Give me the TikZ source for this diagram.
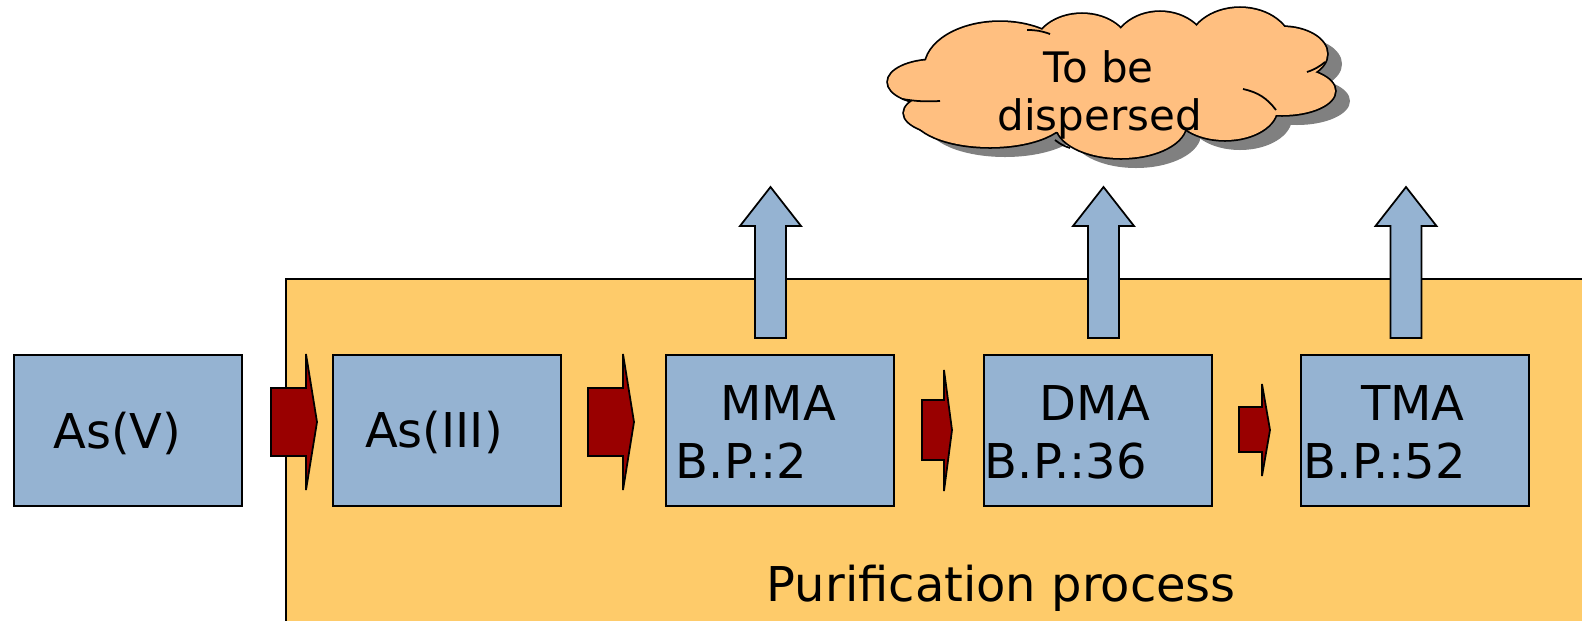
\documentclass[tikz,border=0pt]{standalone}
\usepackage{fontspec}
\setmainfont{DejaVu Sans}

\definecolor{procbg}{RGB}{254,203,106}
\definecolor{boxblue}{RGB}{149,179,210}
\definecolor{arrowred}{RGB}{153,0,0}
\definecolor{cloudorange}{RGB}{255,191,128}

% lobes of the cloud: centre x / centre y / x radius / y radius
\def\cloudlobes{935/82/47/22, 962/113/58/23, 1000/68/75/46, 1082/50/48/36,
  1160/52/48/40, 1240/48/52/40, 1282/54/45/27, 1282/91/53/24, 1225/108/52/32,
  1121/124/65/34, 990/114/78/33, 1110/85/150/50}

\begin{document}
\begin{tikzpicture}[
    x=0.02cm, y=-0.02cm,
    line width=1pt,
    every node/.style={font=\fontsize{27.3}{32}\selectfont, inner sep=0pt},
    species/.style={draw, fill=boxblue, minimum width=4.56cm, minimum height=3.02cm, anchor=north west},
    redarrow/.style={draw, fill=arrowred, line join=miter},
    uparrow/.style={draw, fill=boxblue},
    process/.style={draw, fill=procbg},
    cloudtext/.style={font=\fontsize{23.9}{27.3}\selectfont, anchor=base}
  ]
  \useasboundingbox (0,0) rectangle (1582,620);

    %------------------ Purification area ------------------%
    \draw[process] (286,279) rectangle (1600,640);
    \node[anchor=base west] (purif) at (766,601) {Purification process};

    % Up arrows (to the cloud)
    \foreach \c in {770.5,1103.5,1406}
      \draw[uparrow] ({\c-15.5},338) -- ({\c-15.5},226) -- ({\c-30.5},226) -- (\c,187)
        -- ({\c+30.5},226) -- ({\c+15.5},226) -- ({\c+15.5},338) -- cycle;

    %------------------ Species boxes ------------------%
    \node[species] (asv)  at (13,354)   {};
    \node[species] (asiii) at (332,354) {};
    \node[species] (mma)  at (665,354)  {};
    \node[species] (dma)  at (983,354)  {};
    \node[species] (tma)  at (1300,354) {};

    % Labels
    \node[anchor=base] (tasv) at (117.5,448) {As(V)};
    \node[anchor=base] (tasiii) at (434,447) {As(III)};
    \node[anchor=base] (tmma) at (778,420) {MMA};
    \node[anchor=base west] (bpmma) at (675,478) {B.P.:2};
    \node[anchor=base] (tdma) at (1095,420) {DMA};
    \node[anchor=base west] (bpdma) at (984,478) {B.P.:36};
    \node[anchor=base] (ttma) at (1413,420) {TMA};
    \node[anchor=base west] (bptma) at (1303,478) {B.P.:52};

    % Red block arrows
    \foreach \a/\b/\t/\ht/\hb/\bt/\bb/\m in {271/306/317/354/490/388/456/422,
        588/623/634/354/490/388/456/422, 922/944/952/370/491/400/460/430,
        1239/1262/1270/384/476/407/452/430}
      \draw[redarrow] (\a,\bt) -- (\b,\bt) -- (\b,\ht) -- (\t,\m) -- (\b,\hb)
        -- (\b,\bb) -- (\a,\bb) -- cycle;

    %------------------ Cloud ------------------%
    % shadow
    \foreach \x/\y/\rx/\ry in \cloudlobes
      \fill[gray] ({\x+15},{\y+10}) ellipse ({\rx} and {\ry});
    % outline, then fill over it
    \foreach \x/\y/\rx/\ry in \cloudlobes
      \draw[line width=2pt] (\x,\y) ellipse ({\rx} and {\ry});
    \foreach \x/\y/\rx/\ry in \cloudlobes
      \fill[cloudorange] (\x,\y) ellipse ({\rx} and {\ry});
    % inner strokes
    \draw (902,99) to[bend right=6] (940,101);
    \draw (1027,30) to[bend left=10] (1050,34);
    \draw (1307,72) to[bend right=10] (1325,62);
    \draw (1243,89) to[bend left=20] (1276,110);
    \draw (1055,140) to[bend right=10] (1070,148);
    \node[cloudtext] (tobe) at (1098.5,82) {To be};
    \node[cloudtext] (disp) at (1099.5,130) {dispersed};

  \end{tikzpicture}
\end{document}
